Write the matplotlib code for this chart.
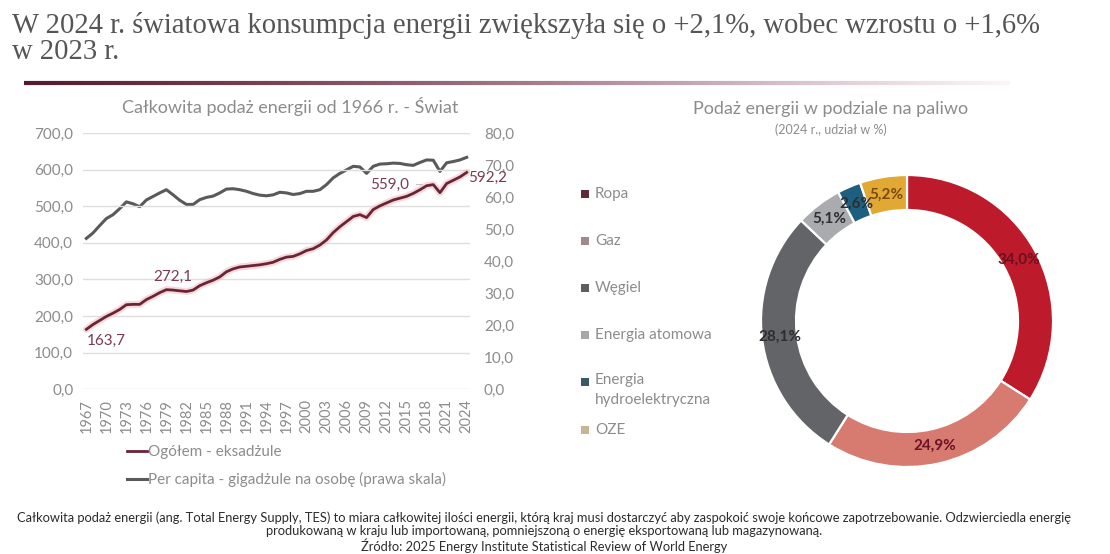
import matplotlib
matplotlib.use("Agg")
import matplotlib.pyplot as plt
import numpy as np
from matplotlib.collections import LineCollection

plt.rcParams['font.family'] = ['Lato', 'DejaVu Sans']

# --- data ---
years = list(range(1967, 2025))
total_ej = [163.7, 177, 188, 199, 208, 218, 231, 232, 232, 245,
            254, 264, 272.1, 271, 269, 267, 271, 283, 291, 298,
            307, 321, 329, 334, 336, 338, 340, 343, 347, 355,
            361, 363, 370, 379, 384, 394, 408, 428, 444, 458,
            472, 477, 469, 491, 501, 509, 517, 522, 527, 535,
            545, 556, 559.0, 537, 562, 571, 580, 592.2]
per_capita_gj = [47.1, 48.8, 51.1, 53.3, 54.5, 56.4, 58.5, 57.9, 57.0, 59.1,
                 60.2, 61.3, 62.3, 60.7, 59.0, 57.7, 57.7, 59.2, 59.9, 60.3,
                 61.3, 62.5, 62.6, 62.3, 61.8, 61.1, 60.6, 60.4, 60.7, 61.5,
                 61.3, 60.8, 61.1, 61.8, 61.8, 62.3, 63.9, 66.0, 67.4, 68.5,
                 69.6, 69.4, 67.4, 69.6, 70.3, 70.4, 70.6, 70.5, 70.1, 69.9,
                 70.8, 71.6, 71.5, 68.0, 70.7, 71.1, 71.6, 72.4]
labelled_years = [1967, 1979, 2019, 2024]

fuels = ['Ropa', 'Gaz', 'Węgiel', 'Energia atomowa', 'Energia\nhydroelektryczna', 'OZE']
shares = [34.0, 24.9, 28.1, 5.1, 2.6, 5.2]
share_labels = ['34,0%', '24,9%', '28,1%', '5,1%', '2,6%', '5,2%']

W, H = 1110, 554
fig = plt.figure(figsize=(W / 100, H / 100), dpi=100)
fig.patch.set_facecolor('white')

def fx(px):
    return px / W

def fy(py):
    return 1 - py / H

def fmt(v):
    return f'{v:.1f}'.replace('.', ',')

GRAY_TXT = '#8c8c8c'
RED_LINE = '#6a2535'
GRAY_LINE = '#5a5a5a'

# --- header ---
fig.text(fx(12), fy(12), 'W 2024 r. światowa konsumpcja energii zwiększyła się o +2,1%, wobec wzrostu o +1,6%\nw 2023 r.',
         family='Liberation Serif', fontsize=20.6, color='#555555', va='top', ha='left', linespacing=1.02)

# overlay in pixel coordinates for decorations
ov = fig.add_axes([0, 0, 1, 1], zorder=-1)
ov.set_xlim(0, W)
ov.set_ylim(H, 0)
ov.axis('off')
xs = np.linspace(24, 1010, 300)
segs = [[(xs[i], 83), (xs[i + 1], 83)] for i in range(len(xs) - 1)]
t = np.linspace(0, 1, len(segs))
c0 = np.array([0.33, 0.10, 0.17])
c1 = np.array([0.80, 0.66, 0.70])
cols = [tuple(list(c0 + (c1 - c0) * min(1, v * 1.1)) + [1 - 0.9 * v ** 3]) for v in t]
ov.add_collection(LineCollection(segs, colors=cols, linewidths=3))

# --- line chart ---
ax = fig.add_axes([fx(83), fy(389.3), fx(470 - 83), (389.3 - 133) / H])
ax2 = ax.twinx()
ax.set_zorder(ax2.get_zorder() + 1)
ax.patch.set_visible(False)

ax.plot(years, total_ej, color='#f2b8c2', lw=5, alpha=0.55, solid_capstyle='round')
l1, = ax.plot(years, total_ej, color=RED_LINE, lw=2, label='Ogółem - eksadżule')
l2, = ax2.plot(years, per_capita_gj, color=GRAY_LINE, lw=2.2,
               label='Per capita - gigadżule na osobę (prawa skala)')

ax.set_xlim(1966.5, 2024.5)
ax.set_ylim(0, 700)
ax2.set_ylim(0, 80)
ax.set_yticks(np.arange(0, 701, 100))
ax2.set_yticks(np.arange(0, 81, 10))
ax.set_yticklabels([fmt(v) for v in np.arange(0, 701, 100)])
ax2.set_yticklabels([fmt(v) for v in np.arange(0, 81, 10)])
ax.set_xticks(years[::3])
ax.set_xticklabels([str(y) for y in years[::3]], rotation=90)
ax.grid(axis='y', color='#dedede', lw=1)
ax.set_axisbelow(True)
for a in (ax, ax2):
    for s in a.spines.values():
        s.set_visible(False)
    a.tick_params(length=0, colors=GRAY_TXT, labelsize=11)
ax.tick_params(axis='y', pad=7)
ax2.tick_params(axis='y', pad=10)
ax.tick_params(axis='x', pad=7, labelsize=10.5)

lab_col = '#7a3a50'
offsets = {1967: (0, -5, 'left', 'top'), 1979: (6, 6, 'center', 'bottom'),
           2019: (-24, 0, 'right', 'center'), 2024: (1, -5, 'left', 'center')}
for yr in labelled_years:
    v = total_ej[years.index(yr)]
    dx, dy, ha, va = offsets[yr]
    arrow = None
    if yr == 2019:
        arrow = dict(arrowstyle='-', color='#bfbfbf', lw=0.8, shrinkA=3, shrinkB=8)
    ax.annotate(fmt(v), (yr, v), xytext=(dx, dy), textcoords='offset pixels',
                ha=ha, va=va, color=lab_col, fontsize=11, arrowprops=arrow)

fig.text(fx(290), fy(106), 'Całkowita podaż energii od 1966 r. - Świat', ha='center', va='center',
         fontsize=13, color=GRAY_TXT)

fig.legend(handles=[l1, l2], loc='upper left', bbox_to_anchor=(fx(127), fy(445)),
           frameon=False, fontsize=11, labelcolor=GRAY_TXT, handlelength=1.3,
           handletextpad=0.1, labelspacing=0.85, borderaxespad=0, borderpad=0)

# --- donut ---
R = 150
pax = fig.add_axes([fx(907 - R), fy(321 + R), fx(2 * R), 2 * R / H])
colors = ['#bd1a2b', '#d77a70', '#626467', '#a9abae', '#1e5f80', '#e2a834']
wedges, _ = pax.pie(shares, colors=colors, startangle=90, counterclock=False,
                    radius=146 / R, wedgeprops=dict(width=35 / R, edgecolor='white', linewidth=1.6))
pax.set_xlim(-1, 1)
pax.set_ylim(-1, 1)
pax.set_aspect('equal')
pax.axis('off')
txt_cols = ['#6b1020', '#6e1226', '#2e2e2e', '#2e2e2e', '#2e2e2e', '#7a4a08']
for w, lab, c in zip(wedges, share_labels, txt_cols):
    ang = np.deg2rad((w.theta1 + w.theta2) / 2)
    r = 128 / R
    pax.text(r * np.cos(ang), r * np.sin(ang), lab, ha='center', va='center',
             fontsize=11, fontweight='bold', color=c)

fig.text(fx(831), fy(109), 'Podaż energii w podziale na paliwo', ha='center', va='center',
         fontsize=13, color=GRAY_TXT)
fig.text(fx(831), fy(130), '(2024 r., udział w %)', ha='center', va='center',
         fontsize=9, color=GRAY_TXT)

# donut legend
leg_cols = ['#5c2c38', '#a08a8a', '#5e5e5e', '#a8a8a8', '#3c5866', '#c9b594']
leg_y = [194, 241, 288, 335, 382, 430]
for c, f, yy in zip(leg_cols, fuels, leg_y):
    ov.scatter([585], [yy], marker='s', s=26, color=c, lw=0)
    two_lines = '\n' in f
    ov.text(595, yy - 9 if two_lines else yy, f, ha='left', va='top' if two_lines else 'center',
            fontsize=11, color=GRAY_TXT, linespacing=1.55)

# --- footnote ---
fig.text(fx(544), fy(511),
         'Całkowita podaż energii (ang. Total Energy Supply, TES) to miara całkowitej ilości energii, którą kraj musi dostarczyć aby zaspokoić swoje końcowe zapotrzebowanie. Odzwierciedla energię\n'
         'produkowaną w kraju lub importowaną, pomniejszoną o energię eksportowaną lub magazynowaną.\n'
         'Źródło: 2025 Energy Institute Statistical Review of World Energy',
         ha='center', va='top', fontsize=9.3, color='#2b2b2b', linespacing=1.12, multialignment='center')

fig.savefig('out.png', dpi=100, facecolor='white')
